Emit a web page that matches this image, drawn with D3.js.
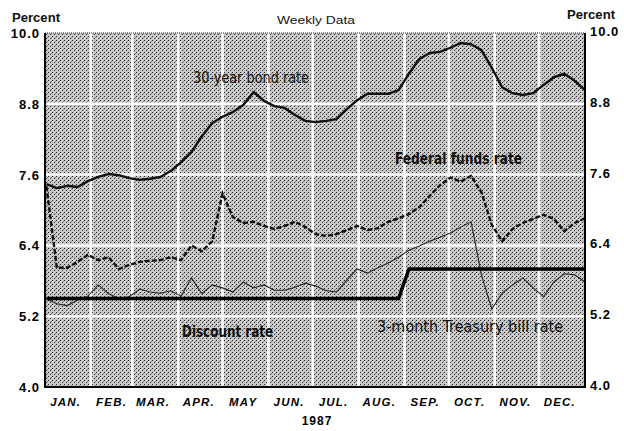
<!DOCTYPE html>
<html>
<head>
<meta charset="utf-8">
<script src="https://cdn.jsdelivr.net/npm/d3@7"></script>
<style>
  body { margin: 0; background: #fff; }
  svg { display: block; }
</style>
</head>
<body>
<svg id="viz"></svg>
<script>
var width = 624;
var height = 431;

var months = ["JAN.", "FEB.", "MAR.", "APR.", "MAY", "JUN.", "JUL.", "AUG.", "SEP.", "OCT.", "NOV.", "DEC."];
var yTicks = [4.0, 5.2, 6.4, 7.6, 8.8, 10.0];

// weekly observations, first one on Jan 2 1987
var firstWeek = new Date(1987, 0, 2);
var weeks = d3.range(53).map(function(i) { return d3.timeDay.offset(firstWeek, 7 * i); });

var bondRate = [7.44, 7.37, 7.41, 7.39, 7.49, 7.56, 7.61, 7.59, 7.54, 7.51, 7.53, 7.56, 7.66, 7.81, 7.98, 8.25, 8.47, 8.58,
    8.66, 8.78, 9.00, 8.85, 8.76, 8.73, 8.61, 8.51, 8.49, 8.51, 8.54, 8.71, 8.86, 8.97, 8.97, 8.97, 9.03, 9.31, 9.56,
    9.66, 9.68, 9.75, 9.83, 9.81, 9.71, 9.41, 9.08, 8.98, 8.95, 8.98, 9.12, 9.25, 9.31, 9.19, 9.03];
var fedFunds = [7.40, 6.02, 6.02, 6.12, 6.24, 6.15, 6.20, 6.00, 6.07, 6.12, 6.14, 6.15, 6.20, 6.15, 6.40, 6.30, 6.47, 7.28,
    6.88, 6.78, 6.80, 6.73, 6.68, 6.73, 6.80, 6.71, 6.59, 6.56, 6.59, 6.66, 6.73, 6.66, 6.69, 6.80, 6.86, 6.93, 7.05,
    7.24, 7.42, 7.55, 7.48, 7.58, 7.30, 6.75, 6.47, 6.68, 6.78, 6.85, 6.92, 6.85, 6.64, 6.78, 6.86];
var tBill = [5.49, 5.41, 5.38, 5.47, 5.54, 5.73, 5.58, 5.50, 5.53, 5.66, 5.61, 5.59, 5.63, 5.54, 5.85, 5.58, 5.73, 5.68,
    5.61, 5.78, 5.68, 5.73, 5.64, 5.64, 5.69, 5.76, 5.71, 5.63, 5.61, 5.81, 6.00, 5.93, 6.02, 6.10, 6.20, 6.32, 6.39,
    6.47, 6.54, 6.61, 6.71, 6.80, 5.90, 5.32, 5.59, 5.73, 5.85, 5.68, 5.53, 5.78, 5.92, 5.90, 5.78];
var discountRate = [5.5, 5.5, 5.5, 5.5, 5.5, 5.5, 5.5, 5.5, 5.5, 5.5, 5.5, 5.5, 5.5, 5.5, 5.5, 5.5, 5.5, 5.5,
    5.5, 5.5, 5.5, 5.5, 5.5, 5.5, 5.5, 5.5, 5.5, 5.5, 5.5, 5.5, 5.5, 5.5, 5.5, 5.5, 5.5, 6.0, 6.0,
    6.0, 6.0, 6.0, 6.0, 6.0, 6.0, 6.0, 6.0, 6.0, 6.0, 6.0, 6.0, 6.0, 6.0, 6.0, 6.0];

var plotL = 45, plotR = 585, plotT = 33, plotB = 387;

var x = d3.scaleTime()
    .domain([new Date(1987, 0, 1), new Date(1988, 0, 1)])
    .range([plotL, plotR]);
var y = d3.scaleLinear().domain([4, 10]).range([plotB, plotT]);

var svg = d3.select("#viz").attr("width", width).attr("height", height);
var defs = svg.append("defs");

// halftone-ish grey
var pat = defs.append("pattern")
    .attr("id", "dots")
    .attr("width", 4).attr("height", 4)
    .attr("patternUnits", "userSpaceOnUse");
pat.append("rect").attr("width", 4).attr("height", 4).attr("fill", "#c9c9c9");
pat.append("rect").attr("x", 0).attr("y", 0).attr("width", 1).attr("height", 1).attr("fill", "#222");
pat.append("rect").attr("x", 2).attr("y", 2).attr("width", 1).attr("height", 1).attr("fill", "#333");
pat.append("rect").attr("x", 3).attr("y", 1).attr("width", 1).attr("height", 1).attr("fill", "#888");

defs.append("clipPath").attr("id", "plotclip")
    .append("rect")
    .attr("x", plotL).attr("y", plotT)
    .attr("width", plotR - plotL).attr("height", plotB - plotT);

svg.append("rect")
    .attr("x", plotL).attr("y", plotT)
    .attr("width", plotR - plotL).attr("height", plotB - plotT)
    .attr("fill", "url(#dots)");

// white grid
var monthStarts = d3.timeMonth.range(new Date(1987, 1, 1), new Date(1988, 0, 1));
svg.append("g").selectAll("line")
    .data(monthStarts).enter()
    .append("line")
    .attr("x1", function(d) { return x(d); })
    .attr("x2", function(d) { return x(d); })
    .attr("y1", plotT).attr("y2", plotB)
    .attr("stroke", "#fff").attr("stroke-width", 2.5);

svg.append("g").selectAll("line")
    .data(yTicks.slice(1, -1)).enter()
    .append("line")
    .attr("x1", plotL).attr("x2", plotR)
    .attr("y1", function(d) { return y(d); })
    .attr("y2", function(d) { return y(d); })
    .attr("stroke", "#fff").attr("stroke-width", 2.5);

var plot = svg.append("g").attr("clip-path", "url(#plotclip)");

function lineFor(values) {
    return d3.line()
        .x(function(d, i) { return x(weeks[i]); })
        .y(function(d) { return y(d); })(values);
}

plot.append("path")
    .attr("d", lineFor(tBill))
    .attr("fill", "none").attr("stroke", "#222").attr("stroke-width", 1.1);

plot.append("path")
    .attr("d", lineFor(discountRate))
    .attr("fill", "none").attr("stroke", "#000").attr("stroke-width", 3.5);

plot.append("path")
    .attr("d", lineFor(fedFunds))
    .attr("fill", "none").attr("stroke", "#111").attr("stroke-width", 2.4)
    .attr("stroke-dasharray", "5,2");

plot.append("path")
    .attr("d", lineFor(bondRate))
    .attr("fill", "none").attr("stroke", "#111").attr("stroke-width", 2.4)
    .attr("stroke-linejoin", "round");

// frame
svg.append("line").attr("x1", plotL).attr("x2", plotR).attr("y1", plotT).attr("y2", plotT)
    .attr("stroke", "#222").attr("stroke-width", 1).attr("stroke-dasharray", "1,1");
svg.append("path")
    .attr("d", "M" + plotL + "," + plotT + "V" + plotB + "H" + plotR + "V" + plotT)
    .attr("fill", "none").attr("stroke", "#000").attr("stroke-width", 2);

// axes labels
var labelFont = "'Liberation Sans', Arial, sans-serif";

svg.append("g").selectAll("text")
    .data(yTicks).enter()
    .append("text")
    .attr("x", 40)
    .attr("y", function(d) { return y(d) + 5; })
    .attr("text-anchor", "end")
    .attr("font-family", labelFont).attr("font-weight", "bold").attr("font-size", 13)
    .attr("letter-spacing", 1)
    .text(function(d) { return d.toFixed(1); });

svg.append("g").selectAll("text")
    .data(yTicks).enter()
    .append("text")
    .attr("x", 590)
    .attr("y", function(d) { return y(d) + 3; })
    .attr("font-family", labelFont).attr("font-weight", "bold").attr("font-size", 13)
    .attr("letter-spacing", 1)
    .text(function(d) { return d.toFixed(1); });

svg.append("g").selectAll("text")
    .data(months).enter()
    .append("text")
    .attr("x", function(d, i) { return x(d3.timeDay.offset(new Date(1987, i, 1), 14)); })
    .attr("y", 406)
    .attr("text-anchor", "middle")
    .attr("font-family", labelFont).attr("font-weight", "bold").attr("font-style", "italic")
    .attr("font-size", 11.5).attr("letter-spacing", 1.2)
    .text(function(d) { return d; });

svg.append("text")
    .attr("x", 317).attr("y", 425)
    .attr("text-anchor", "middle")
    .attr("font-family", labelFont).attr("font-weight", "bold").attr("font-size", 12)
    .attr("letter-spacing", 1)
    .text("1987");

function note(txt, x0, yb, len, size, bold, font) {
    svg.append("text")
        .attr("x", x0).attr("y", yb)
        .attr("font-family", font || "'DejaVu Sans Condensed', 'DejaVu Sans', sans-serif")
        .attr("font-weight", bold ? "bold" : "normal")
        .attr("font-size", size)
        .attr("fill", "#111")
        .attr("textLength", len)
        .attr("lengthAdjust", "spacingAndGlyphs")
        .text(txt);
}

note("Percent", 12, 22, 48, 12, true, labelFont);
note("Percent", 567, 19, 48, 12, true, labelFont);
note("Weekly Data", 277, 24, 78, 10, false, labelFont);
note("30-year bond rate", 193, 83, 116, 15, false);
note("Federal funds rate", 395, 164, 127, 16, true);
note("Discount rate", 182, 337, 91, 16, true);
note("3-month Treasury bill rate", 377, 332, 186, 15, false);
</script>
</body>
</html>
